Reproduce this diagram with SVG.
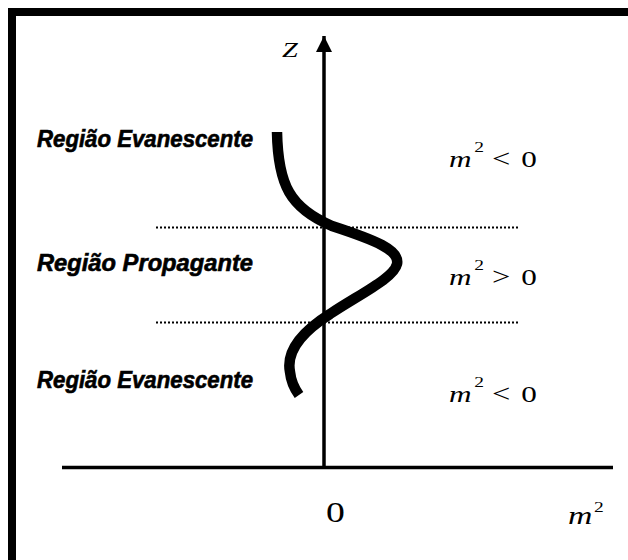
<svg xmlns="http://www.w3.org/2000/svg" width="628" height="560" viewBox="0 0 628 560">
<style>
.lbl{font-family:"Liberation Sans",Arial,sans-serif;font-weight:bold;font-style:italic;font-size:23px;fill:#000;stroke:#000;stroke-width:0.6}
.mi{font-family:"Liberation Serif","Times New Roman",serif;font-style:italic;fill:#000}
.mr{font-family:"Liberation Serif","Times New Roman",serif;fill:#000}
.axis{stroke:#000;stroke-width:3.5;fill:none}
.dot{stroke:#000;stroke-width:2;stroke-dasharray:2 2;fill:none}
</style>
<defs>
<marker id="arr" markerUnits="userSpaceOnUse" markerWidth="18" markerHeight="18" refX="16" refY="8" orient="auto">
<path d="M0,0 L16,8 L0,16 Z" fill="#000"/>
</marker>
</defs>
<rect x="0" y="0" width="628" height="560" fill="#fff"/>
<rect id="frame" x="12" y="12" width="660" height="620" fill="none" stroke="#000" stroke-width="8"/>
<g id="connectors">
<line class="axis" x1="324" y1="469" x2="324" y2="36" marker-end="url(#arr)"/>
<line class="axis" x1="62" y1="467.5" x2="613" y2="467.5"/>
<line class="dot" x1="156" y1="227.5" x2="518" y2="227.5"/>
<line class="dot" x1="156" y1="322.5" x2="518" y2="322.5"/>
</g>
<g id="curve">
<path d="M277,132 C278,185 290,208 332,226 C375,240 400,250 397,264 C394,278 360,294 330,314 C300,333 286,352 290,372 C291,382 294,388 299,395" fill="none" stroke="#000" stroke-width="10.5"/>
</g>
<g id="label-z"><text class="mi" transform="translate(282,57) scale(1.35,1)" font-size="21">Z</text></g>
<g id="label-evan-top"><text class="lbl" x="37" y="147" textLength="216" lengthAdjust="spacingAndGlyphs">Região Evanescente</text></g>
<g id="label-prop"><text class="lbl" x="37" y="271" textLength="216" lengthAdjust="spacingAndGlyphs">Região Propagante</text></g>
<g id="label-evan-bot"><text class="lbl" x="37" y="388" textLength="216" lengthAdjust="spacingAndGlyphs">Região Evanescente</text></g>
<g id="eq-top" transform="translate(449,167) scale(1.3,1)">
<text class="mi" x="0" y="0" font-size="24">m</text>
<text class="mr" x="19.5" y="-15" font-size="15">2</text>
<text class="mr" x="33" y="0" font-size="25">&lt;</text>
<text class="mr" x="55.5" y="0" font-size="24">0</text>
</g>
<g id="eq-mid" transform="translate(449,285) scale(1.3,1)">
<text class="mi" x="0" y="0" font-size="24">m</text>
<text class="mr" x="19.5" y="-15" font-size="15">2</text>
<text class="mr" x="33" y="0" font-size="25">&gt;</text>
<text class="mr" x="55.5" y="0" font-size="24">0</text>
</g>
<g id="eq-bot" transform="translate(449,402) scale(1.3,1)">
<text class="mi" x="0" y="0" font-size="24">m</text>
<text class="mr" x="19.5" y="-15" font-size="15">2</text>
<text class="mr" x="33" y="0" font-size="25">&lt;</text>
<text class="mr" x="55.5" y="0" font-size="24">0</text>
</g>
<g id="label-zero"><text class="mr" transform="translate(326,522) scale(1.3,1)" font-size="29">0</text></g>
<g id="label-m2" transform="translate(568,524) scale(1.3,1)">
<text class="mi" x="0" y="0" font-size="26">m</text>
<text class="mr" x="20" y="-12" font-size="15">2</text>
</g>
</svg>
